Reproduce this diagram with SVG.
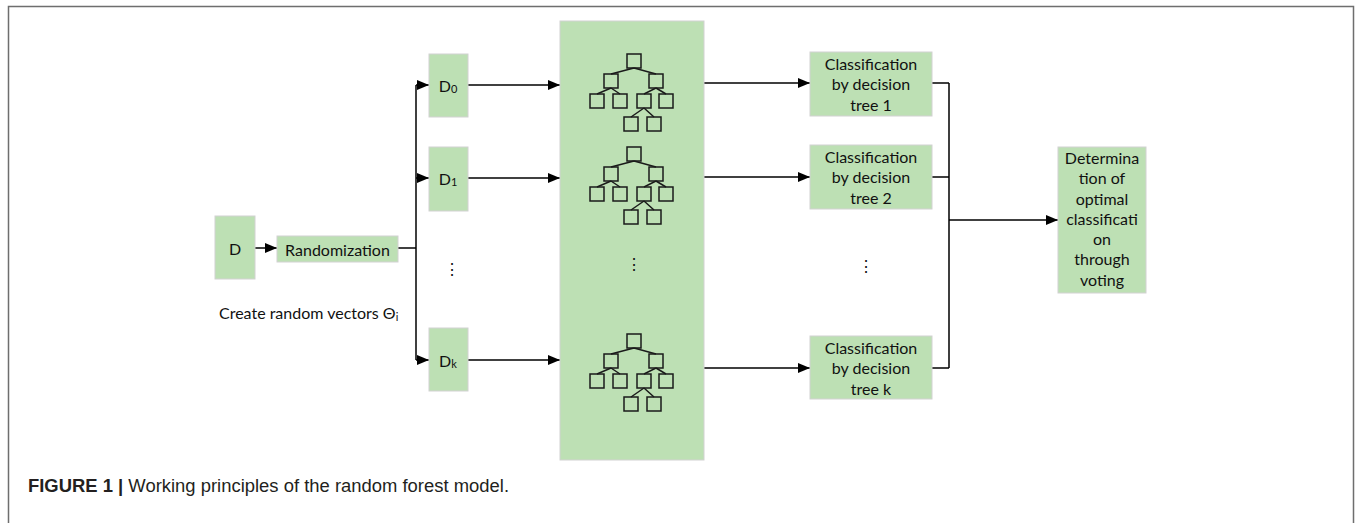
<svg xmlns="http://www.w3.org/2000/svg" xmlns:xlink="http://www.w3.org/1999/xlink" width="1356" height="523" viewBox="0 0 1356 523">
<style>
.box{fill:#bde0b4;stroke:#d2d2d2;stroke-width:1}
.t{font-family:Lato,"Open Sans",sans-serif;font-size:16px;fill:#111;text-anchor:middle;dominant-baseline:central}
.sub{font-size:11px}
.ln{fill:none;stroke:#000;stroke-width:1.5}
.tr{fill:none;stroke:#1a1a1a;stroke-width:1.5}
.cap{font-family:"Liberation Sans",Arial,sans-serif;font-size:17.5px;fill:#231f20}
</style>
<defs>
<marker id="ah" markerWidth="12" markerHeight="10" refX="12" refY="5" orient="auto" markerUnits="userSpaceOnUse">
<path d="M0,0 L12,5 L0,10 Z" fill="#000"/>
</marker>
<g id="tree" class="tr">
<rect x="0" y="0" width="14" height="14"/>
<rect x="-23" y="20" width="14" height="14"/>
<rect x="22" y="20" width="14" height="14"/>
<rect x="-37" y="40" width="14" height="14"/>
<rect x="-14" y="40" width="14" height="14"/>
<rect x="10" y="40" width="14" height="14"/>
<rect x="32" y="40" width="14" height="14"/>
<rect x="-3" y="63" width="14" height="14"/>
<rect x="20" y="63" width="14" height="14"/>
<path d="M7,14 L-16,20 M7,14 L29,20 M-16,34 L-30,40 M-16,34 L-7,40 M29,34 L17,40 M29,34 L39,40 M17,54 L4,63 M17,54 L27,63"/>
</g>
</defs>
<rect width="1356" height="523" fill="#fff"/>
<path d="M8.5,523 V6.5 H1353.5 V523" fill="none" stroke="#6e6e6e" stroke-width="1.5"/>

<g id="connectors">
<path class="ln" d="M255,248 H277" marker-end="url(#ah)"/>
<path class="ln" d="M398,248 H416"/>
<path class="ln" d="M416,85 V360"/>
<path class="ln" d="M416,85 H429" marker-end="url(#ah)"/>
<path class="ln" d="M416,178 H429" marker-end="url(#ah)"/>
<path class="ln" d="M416,360 H429" marker-end="url(#ah)"/>
<path class="ln" d="M468,85 H560" marker-end="url(#ah)"/>
<path class="ln" d="M468,178 H560" marker-end="url(#ah)"/>
<path class="ln" d="M468,360 H560" marker-end="url(#ah)"/>
<path class="ln" d="M704,83 H810" marker-end="url(#ah)"/>
<path class="ln" d="M704,177 H810" marker-end="url(#ah)"/>
<path class="ln" d="M704,368 H810" marker-end="url(#ah)"/>
<path class="ln" d="M932,83 H949 M932,177 H949 M932,368 H949 M949,83 V368"/>
<path class="ln" d="M949,220 H1058" marker-end="url(#ah)"/>
</g>

<g id="node-D">
<rect class="box" x="215" y="216" width="40" height="63"/>
<text class="t" x="235" y="248">D</text>
</g>
<g id="node-randomization">
<rect class="box" x="277" y="236" width="121" height="26"/>
<text class="t" x="337.5" y="249">Randomization</text>
</g>
<text class="t" x="219" y="312" style="text-anchor:start">Create random vectors Θ<tspan class="sub" dy="4">i</tspan></text>

<g id="node-D0">
<rect class="box" x="429" y="54" width="39" height="63"/>
<text class="t" x="448" y="85">D<tspan class="sub" dy="3">0</tspan></text>
</g>
<g id="node-D1">
<rect class="box" x="429" y="147" width="39" height="64"/>
<text class="t" x="448" y="178">D<tspan class="sub" dy="3">1</tspan></text>
</g>
<text class="t" x="452" y="268">⋮</text>
<g id="node-Dk">
<rect class="box" x="429" y="328" width="39" height="63"/>
<text class="t" x="448" y="360">D<tspan class="sub" dy="3">k</tspan></text>
</g>

<g id="node-forest">
<rect class="box" x="560" y="21" width="144" height="439"/>
<use xlink:href="#tree" x="627" y="54"/>
<use xlink:href="#tree" x="627" y="147"/>
<use xlink:href="#tree" x="627" y="334"/>
<text class="t" x="634" y="263">⋮</text>
</g>

<g id="node-class1">
<rect class="box" x="810" y="52" width="122" height="64"/>
<text class="t" x="871" y="63">Classification</text>
<text class="t" x="871" y="83.5">by decision</text>
<text class="t" x="871" y="104">tree 1</text>
</g>
<g id="node-class2">
<rect class="box" x="810" y="145" width="122" height="64"/>
<text class="t" x="871" y="156">Classification</text>
<text class="t" x="871" y="176.5">by decision</text>
<text class="t" x="871" y="197">tree 2</text>
</g>
<text class="t" x="866" y="265">⋮</text>
<g id="node-classk">
<rect class="box" x="810" y="336" width="122" height="63"/>
<text class="t" x="871" y="347">Classification</text>
<text class="t" x="871" y="367.5">by decision</text>
<text class="t" x="871" y="388">tree k</text>
</g>

<g id="node-vote">
<rect class="box" x="1058" y="147" width="88" height="146"/>
<text class="t" x="1102" y="157">Determina</text>
<text class="t" x="1102" y="177">tion of</text>
<text class="t" x="1102" y="198">optimal</text>
<text class="t" x="1102" y="218">classificati</text>
<text class="t" x="1102" y="238">on</text>
<text class="t" x="1102" y="258">through</text>
<text class="t" x="1102" y="279">voting</text>
</g>

<text class="cap" x="28" y="492" textLength="481" lengthAdjust="spacingAndGlyphs"><tspan font-weight="bold">FIGURE 1 |</tspan> Working principles of the random forest model.</text>
</svg>
